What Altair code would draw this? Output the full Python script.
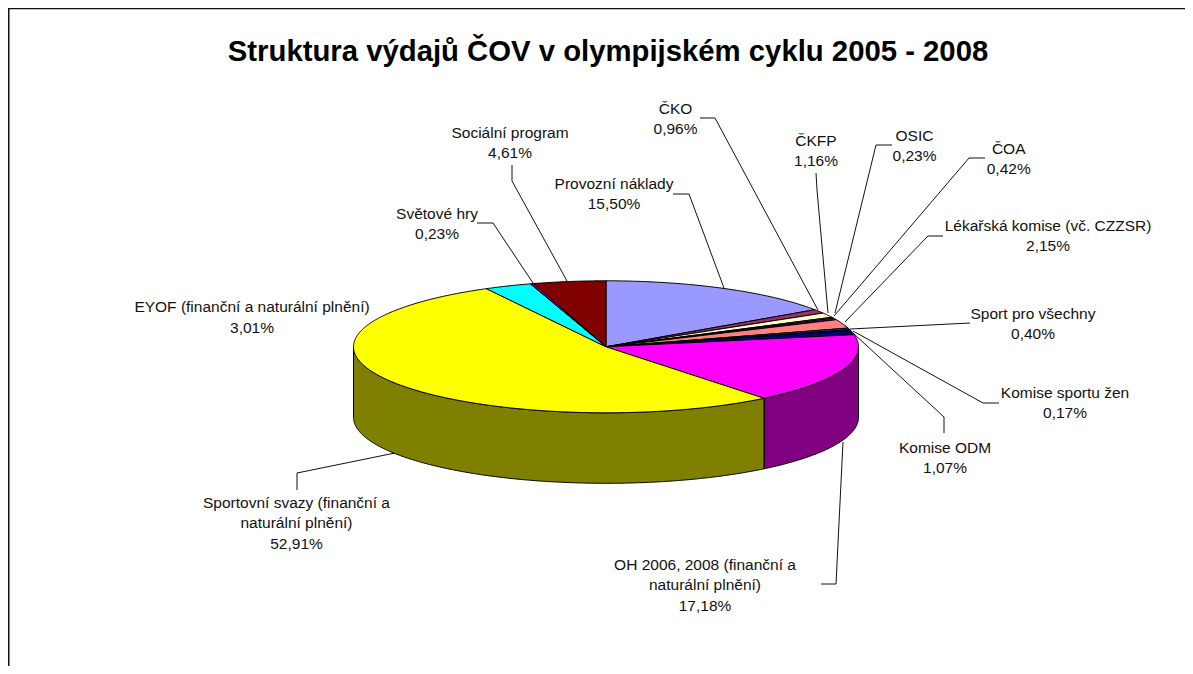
import math
import altair as alt
import pandas as pd

TITLE = "Struktura výdajů ČOV v olympijském cyklu 2005 - 2008"
NAMES = ["Provozní náklady", "ČKO", "ČKFP", "OSIC", "ČOA", "Lékařská komise (vč. CZZSR)",
         "Sport pro všechny", "Komise sportu žen", "Komise ODM",
         "OH 2006, 2008 (finanční a|naturální plnění)",
         "Sportovní svazy (finanční a|naturální plnění)",
         "EYOF (finanční a naturální plnění)", "Světové hry", "Sociální program"]
VALUES = [15.50, 0.96, 1.16, 0.23, 0.42, 2.15, 0.40, 0.17, 1.07, 17.18, 52.91, 3.01, 0.23, 4.61]
COLORS = ["#9999FF", "#993366", "#FFFFCC", "#CCFFFF", "#660066", "#FF8080", "#0066CC",
          "#CCCCFF", "#000080", "#FF00FF", "#FFFF00", "#00FFFF", "#800080", "#800000"]
SIDE_COLORS = {9: "#800080", 10: "#808000"}
LABEL_X = [614, 675.5, 816, 914.5, 1008.7, 1048, 1033, 1065, 945, 705, 296.5, 252, 437, 510]
LABEL_Y = [183.5, 108.5, 140.5, 135.5, 148.5, 225.5, 313.5, 392.5, 447.5, 564.5, 502.5, 307, 213.5, 132.5]
LEADERS = [
    [(673, 194), (689, 194), (724, 288)],
    [(700, 118), (715, 118), (818, 310)],
    [(816, 173), (817, 190), (828, 313)],
    [(892, 145), (876, 145), (835, 313)],
    [(985, 158), (969, 158), (834, 316)],
    [(943, 236), (928, 236), (845, 322)],
    [(970, 323), (850, 329)],
    [(999, 403), (983, 403), (853, 331)],
    [(944, 433), (944, 417), (853, 333)],
    [(821, 584), (836, 584), (843, 442)],
    [(297, 490), (297, 473), (395, 453)],
    [(477, 223), (493, 223), (533, 283)],
    [(512, 165), (512, 181), (567, 281)],
]
FRAME = [(8.7, 674), (8.7, 8.5), (1193, 8.5)]

CX, CY, RX, RY, DEPTH = 606, 346.8, 252.5, 66, 70.5
LINE_H = 20.7


def pt(deg, dy=0.0):
    a = math.radians(deg)
    return CX + RX * math.sin(a), CY - RY * math.cos(a) + dy


def arc(a0, a1, dy=0.0):
    n = max(2, int(abs(a1 - a0) * 2) + 1)
    return [pt(a0 + (a1 - a0) * i / (n - 1), dy) for i in range(n)]


poly_rows = []


def add_poly(key, color, pts):
    for i, (x, y) in enumerate(pts + [pts[0]]):
        poly_rows.append({"key": key, "fill": color, "x": x, "y": y, "o": i})


total = sum(VALUES)
cum = 0.0
for i, v in enumerate(VALUES):
    a0 = cum / total * 360
    cum += v
    a1 = cum / total * 360
    if i in SIDE_COLORS:
        s0, s1 = max(a0, 90), min(a1, 270)
        add_poly(f"side{i}", SIDE_COLORS[i], arc(s0, s1) + arc(s1, s0, DEPTH))
    add_poly(f"top{i:02d}", COLORS[i], [(CX, CY)] + arc(a0, a1))

polys = pd.DataFrame(poly_rows)

text_rows = []
for name, v, lx, ly in zip(NAMES, VALUES, LABEL_X, LABEL_Y):
    lines = name.split("|") + [f"{v:.2f}%".replace(".", ",")]
    for j, t in enumerate(lines):
        text_rows.append({"x": lx, "y": ly + j * LINE_H, "t": t})
texts = pd.DataFrame(text_rows)

lead_rows = []
for k, L in enumerate(LEADERS):
    for j, (x, y) in enumerate(L):
        lead_rows.append({"k": k, "x": x, "y": y, "o": j})
leaders = pd.DataFrame(lead_rows)

frame = pd.DataFrame([{"x": x, "y": y, "o": j} for j, (x, y) in enumerate(FRAME)])

W, H = 1177, 658
xs = alt.Scale(domain=[8, 8 + W], range=[0, W], nice=False, zero=False)
ys = alt.Scale(domain=[8 + H, 8], range=[H, 0], nice=False, zero=False)
X = alt.X("x:Q", scale=xs, axis=None)
Y = alt.Y("y:Q", scale=ys, axis=None)

frame_l = alt.Chart(frame).mark_line(color="#111111", strokeWidth=1.6).encode(X, Y, order="o:Q")
leader_l = alt.Chart(leaders).mark_line(color="#111111", strokeWidth=1).encode(X, Y, detail="k:N", order="o:Q")
poly_l = alt.Chart(polys).mark_line(stroke="black", strokeWidth=1, strokeJoin="round").encode(
    X, Y, detail="key:N", order="o:Q", fill=alt.Fill("fill:N", scale=None))
text_l = alt.Chart(texts).mark_text(font="Liberation Sans", fontSize=15.5, color="#111111",
                                    baseline="middle", align="center").encode(X, Y, text="t:N")
title_df = pd.DataFrame([{"x": 608, "y": 52, "t": TITLE}])
title_l = alt.Chart(title_df).mark_text(font="Liberation Sans", fontSize=29.3, fontWeight="bold",
                                        color="black", baseline="middle", align="center").encode(X, Y, text="t:N")

chart = (alt.layer(frame_l, leader_l, poly_l, text_l, title_l)
         .properties(width=W, height=H, padding=0, background="white",
                     autosize=alt.AutoSizeParams(type="none"))
         .configure_view(stroke=None))
chart.save("out.html", embed_options={"renderer": "svg", "actions": False})
